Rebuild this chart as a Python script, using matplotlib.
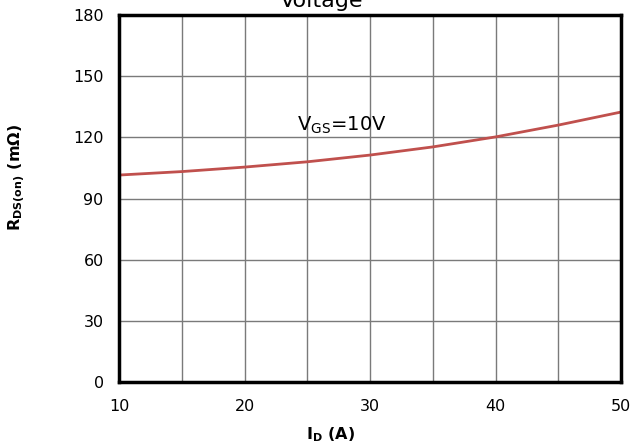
import numpy as np
import matplotlib
matplotlib.use('Agg')
import matplotlib.pyplot as plt

# data
id_amps = [10, 15, 20, 25, 30, 35, 40, 45, 50]
rds_on = [101.5, 103.2, 105.4, 108.0, 111.3, 115.3, 120.2, 126.0, 132.4]

xticks = [10, 20, 30, 40, 50]
yticks = [0, 30, 60, 90, 120, 150, 180]

plt.rcParams['font.family'] = 'DejaVu Sans'

fig = plt.figure(figsize=(6.32, 4.48), dpi=100)
ax = fig.add_axes([119/632, 1 - 382/448, (621-119)/632, (382-15)/448])

ax.plot(id_amps, rds_on, color='#c0504d', lw=2)
ax.set_xlim(10, 50)
ax.set_ylim(0, 180)
ax.set_xticks(xticks)
ax.set_yticks(yticks)
ax.set_xticks(np.arange(10, 51, 5), minor=True)
ax.grid(True, which='both', axis='x', color='#7a7a7a', lw=1)
ax.grid(True, which='major', axis='y', color='#7a7a7a', lw=1)
ax.tick_params(which='both', length=0, labelsize=11.5)
ax.tick_params(axis='y', pad=11)
ax.tick_params(axis='x', pad=12)
for s in ax.spines.values():
    s.set_linewidth(2.5)
    s.set_color('black')

ax.text(24.2, 126, r'V$_{\mathrm{GS}}$=10V', fontsize=14, va='center', ha='left')

fig.text(322/632, 1 - 7/448, 'Voltage', fontsize=16, ha='center', va='baseline')
fig.text(330/632, 1 - 435/448, r'I$_{\mathbf{D}}$ (A)', fontsize=11.5,
         fontweight='bold', ha='center', va='center')
fig.text(17/632, 1 - 177/448, r'R$_{\mathbf{DS(on)}}$ (mΩ)', fontsize=11.5,
         fontweight='bold', ha='center', va='center', rotation=90)

fig.savefig('out.png', dpi=100)
